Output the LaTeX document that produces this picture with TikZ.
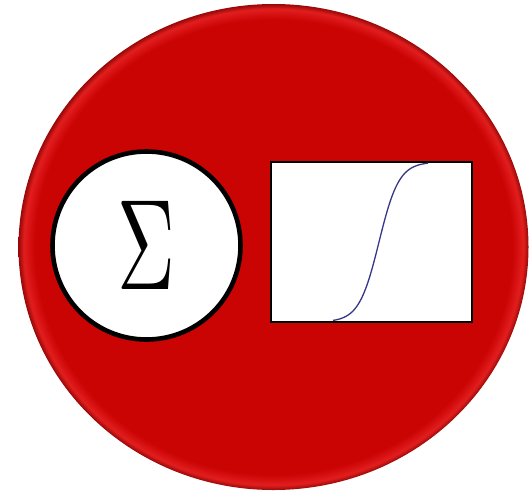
\documentclass[tikz,border=0pt]{standalone}
\usepackage{graphicx}
\definecolor{ballred}{RGB}{202,3,3}
\definecolor{rimred}{RGB}{226,30,30}
\definecolor{edgered}{RGB}{150,8,8}
\definecolor{curveblue}{RGB}{55,55,135}
% flat red disc with a light rim and a dark edge
\pgfdeclareradialshading{ballshade}{\pgfpoint{0bp}{0bp}}{color(0bp)=(ballred); color(23.4bp)=(ballred); color(24.5bp)=(rimred); color(25bp)=(edgered); color(50bp)=(edgered)}
\begin{document}
\begin{tikzpicture}[x=1pt, y=-1pt,
		sumnode/.style={circle, draw=black, line width=4.6pt, fill=white, minimum size=188pt, inner sep=0pt},
		actbox/.style={rectangle, draw=black, line width=1.6pt, fill=white, minimum width=201pt, minimum height=160pt, inner sep=0pt}]
	\useasboundingbox (0,0) rectangle (530,493);
	\shade[shading=ballshade] (273.5,247) ellipse [x radius=255, y radius=243];
	% summation
	\node[sumnode] (sum) at (146.5,245.5) {};
	\node[inner sep=0pt] (sigma) at (sum) {\scalebox{8}[12.9]{$\Sigma$}};
	% activation
	\node[actbox] (act) at (371.5,242) {};
	\begin{scope}
		\clip (act.south west) rectangle (act.north east);
		\draw[curveblue, line width=1.3pt] plot[domain=333:428, samples=80, smooth] (\x, {322 - 160/(1+exp(-0.1*(\x-379)))});
	\end{scope}
\end{tikzpicture}
\end{document}
